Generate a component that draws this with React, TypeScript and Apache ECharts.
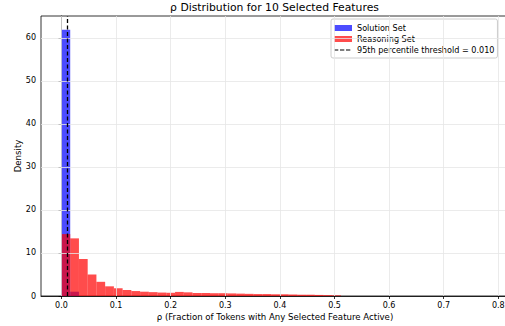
import React, { useEffect, useRef } from "react";
import * as echarts from "echarts";

const BIN_WIDTH = 0.016;
const solutionDensity = [61.9, 1.0];
const reasoningDensity = [
  14.4, 13.4, 8.6, 5.0, 3.3, 2.25, 1.8, 1.4, 1.15, 1.0, 0.9, 0.8, 0.75, 0.95, 0.85, 0.7,
  0.7, 0.65, 0.65, 0.6, 0.55, 0.5, 0.45, 0.45, 0.4, 0.4, 0.35, 0.3, 0.3, 0.25, 0.2, 0.15,
];
const threshold = 0.01;
const xTicks = [0, 0.1, 0.2, 0.3, 0.4, 0.5, 0.6, 0.7, 0.8];
const yTicks = [0, 10, 20, 30, 40, 50, 60];
const X_MIN = -0.0375;
const X_MAX = 0.8196;
const Y_MAX = 65.1;

const FONT = "DejaVu Sans";
const DASH_ICON =
  "path://M0,0h0.01v0.01h-0.01z M0,2.5h4.3v1h-4.3z M6,2.5h4.3v1h-4.3z M12,2.5h4.3v1h-4.3z M17.99,5.99h0.01v0.01h-0.01z";

function toBins(vals: number[]) {
  return vals.map((v, i) => [i * BIN_WIDTH, (i + 1) * BIN_WIDTH, v]);
}

function histRender(color: string) {
  return (params: any, api: any) => {
    const x0 = api.value(0);
    const x1 = api.value(1);
    const y = api.value(2);
    const p0 = api.coord([x0, y]);
    const p1 = api.coord([x1, 0]);
    return {
      type: "rect",
      shape: { x: p0[0], y: p0[1], width: p1[0] - p0[0], height: p1[1] - p0[1] },
      style: { fill: color },
    };
  };
}

export default function App() {
  const ref = useRef<HTMLDivElement>(null);
  useEffect(() => {
    if (!ref.current) return;
    const chart = echarts.init(ref.current, undefined, { renderer: "svg" });
    const blue = "rgba(0,0,255,0.7)";
    const red = "rgba(255,0,0,0.7)";
    chart.setOption({
      animation: false,
      textStyle: { fontFamily: FONT },
      title: {
        text: "ρ Distribution for 10 Selected Features",
        left: 274.5,
        textAlign: "center",
        top: 2,
        padding: 0,
        textStyle: { fontFamily: FONT, fontSize: 10.8, fontWeight: "normal", color: "#000" },
      },
      legend: {
        left: 331,
        top: 19,
        orient: "vertical",
        backgroundColor: "#fff",
        borderColor: "#cccccc",
        borderWidth: 1,
        borderRadius: 2,
        padding: [5, 3, 4, 3],
        itemGap: 3,
        itemWidth: 18,
        itemHeight: 6,
        textStyle: { fontFamily: FONT, fontSize: 8.1, color: "#000" },
        data: [
          { name: "Solution Set", icon: "rect" },
          { name: "Reasoning Set", icon: "rect" },
          { name: "95th percentile threshold = 0.010", icon: DASH_ICON, itemStyle: { color: "#000" } },
        ],
      },
      grid: {
        left: 41,
        top: 16,
        width: 468,
        height: 280,
        show: true,
        borderColor: "#000",
        borderWidth: 0.8,
        outerBoundsMode: "none",
        containLabel: false,
      },
      xAxis: {
        type: "value",
        min: X_MIN,
        max: X_MAX,
        name: "ρ (Fraction of Tokens with Any Selected Feature Active)",
        nameLocation: "middle",
        nameGap: 16,
        nameMoveOverlap: false,
        nameTextStyle: { fontFamily: FONT, fontSize: 8.6, color: "#000" },
        axisLine: { show: true, onZero: false, lineStyle: { color: "#000", width: 0.8 } },
        axisTick: { show: true, length: 3, customValues: xTicks, lineStyle: { color: "#000", width: 0.8 } },
        axisLabel: {
          customValues: xTicks,
          formatter: (v: number) => v.toFixed(1),
          fontFamily: FONT,
          fontSize: 8,
          color: "#000",
          margin: 5,
        },
        splitLine: { show: false },
      },
      yAxis: {
        type: "value",
        min: 0,
        max: Y_MAX,
        name: "Density",
        nameLocation: "middle",
        nameRotate: 90,
        nameGap: 19,
        nameMoveOverlap: false,
        nameTextStyle: { fontFamily: FONT, fontSize: 8.6, color: "#000" },
        axisLine: { show: true, lineStyle: { color: "#000", width: 0.8 } },
        axisTick: { show: true, length: 3, customValues: yTicks, lineStyle: { color: "#000", width: 0.8 } },
        axisLabel: {
          customValues: yTicks,
          fontFamily: FONT,
          fontSize: 8,
          color: "#000",
          margin: 5,
        },
        splitLine: { show: false },
      },
      series: [
        {
          type: "line",
          name: "grid",
          data: [],
          z: 0,
          silent: true,
          markLine: {
            silent: true,
            symbol: "none",
            label: { show: false },
            lineStyle: { color: "#e6e6e6", width: 0.8, type: "solid" },
            data: [
              ...xTicks.map((v) => ({ xAxis: v })),
              ...yTicks.filter((v) => v > 0).map((v) => ({ yAxis: v })),
            ],
          },
        },
        {
          type: "custom",
          name: "Solution Set",
          renderItem: histRender(blue),
          itemStyle: { color: blue },
          data: toBins(solutionDensity),
          encode: { x: [0, 1], y: 2 },
          z: 2,
          clip: true,
        },
        {
          type: "custom",
          name: "Reasoning Set",
          renderItem: histRender(red),
          itemStyle: { color: red },
          data: toBins(reasoningDensity),
          encode: { x: [0, 1], y: 2 },
          z: 3,
          clip: true,
        },
        {
          type: "line",
          name: "95th percentile threshold = 0.010",
          data: [],
          symbol: "none",
          itemStyle: { color: "#000" },
          lineStyle: { color: "#000", type: "dashed", width: 1.3 },
          z: 5,
          markLine: {
            silent: true,
            symbol: "none",
            label: { show: false },
            lineStyle: { color: "#000", type: [4, 2.5], width: 1.3 },
            data: [{ xAxis: threshold }],
          },
        },
      ],
    });
    return () => chart.dispose();
  }, []);
  return (
    <div
      ref={ref}
      style={{ position: "fixed", left: 0, top: 0, width: 505, height: 326, background: "#fff" }}
    />
  );
}
